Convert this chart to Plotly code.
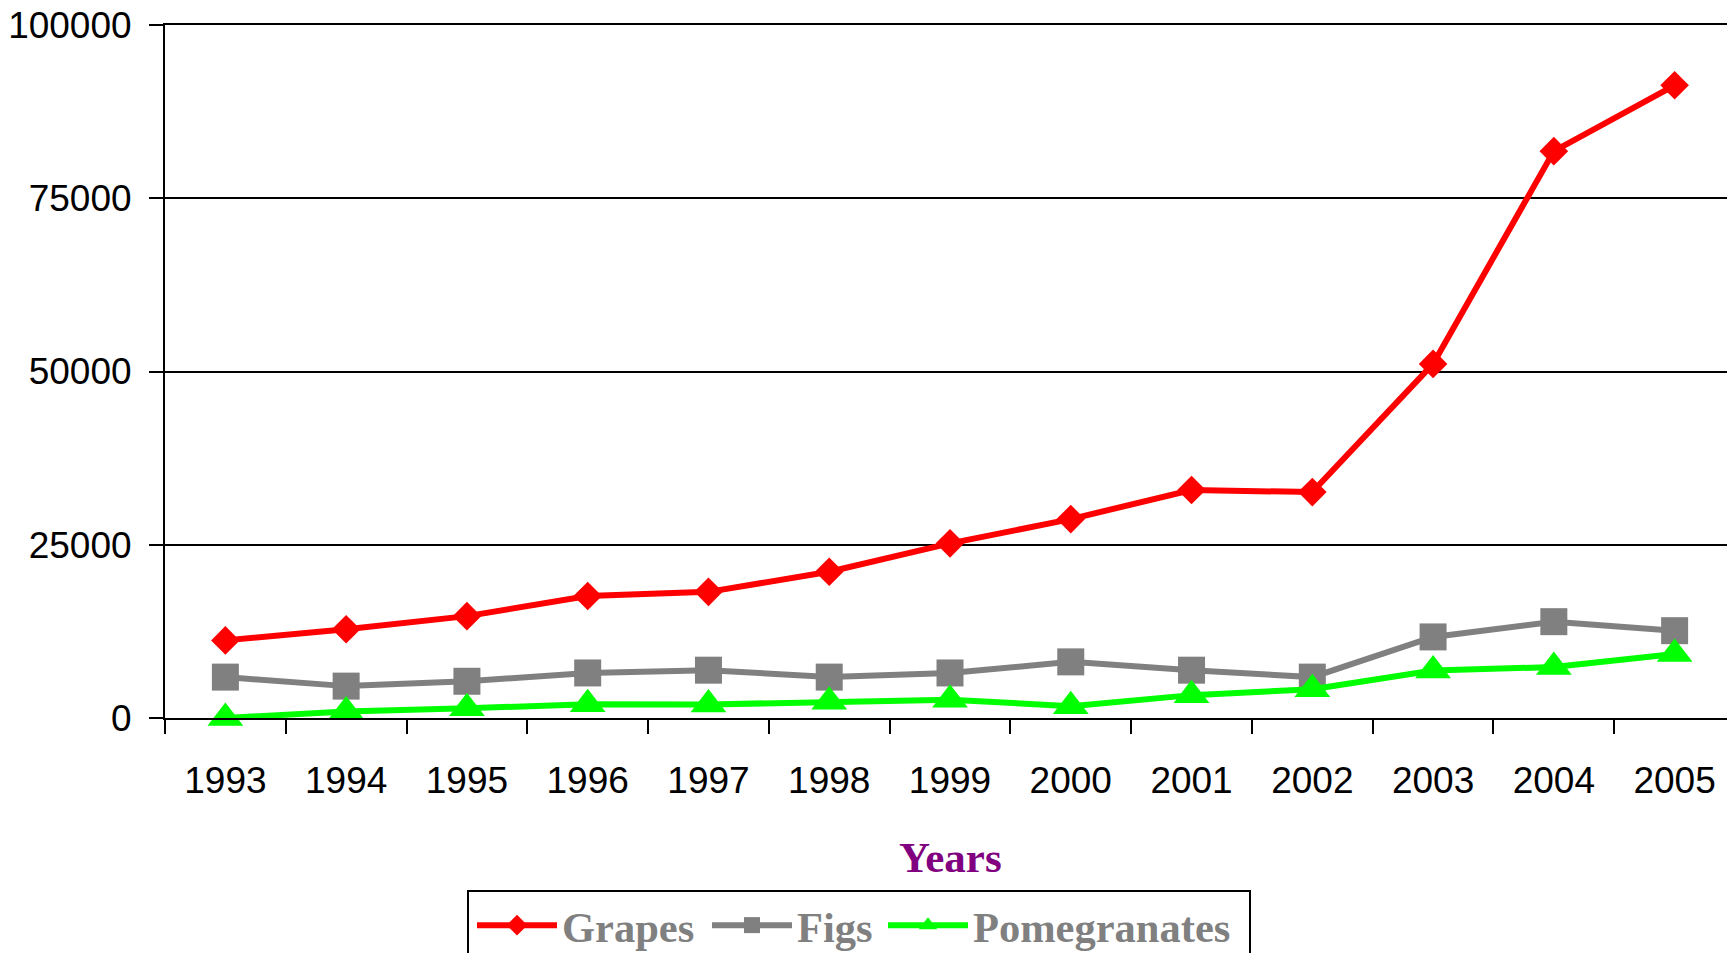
import plotly.graph_objects as go

years = ["1993", "1994", "1995", "1996", "1997", "1998", "1999",
         "2000", "2001", "2002", "2003", "2004", "2005"]
grapes = [11200, 12800, 14700, 17600, 18200, 21100, 25200,
          28700, 32900, 32600, 51100, 81800, 91300]
figs = [5900, 4600, 5300, 6500, 6900, 5900, 6500,
        8100, 6900, 5900, 11700, 13900, 12600]
pomegranates = [0, 950, 1400, 2000, 1950, 2350, 2650,
                1700, 3300, 4150, 6850, 7350, 9250]
y_ticks = [0, 25000, 50000, 75000, 100000]

# The page body has an 8px margin, so the figure is drawn 8px in from the
# window's top-left corner; size and place everything in window pixels.
OFF = 8
WIN_W, WIN_H = 1735, 953
W, H = WIN_W - OFF, WIN_H - OFF
PL, PR, PT, PB = 165, 1735, 25, 718          # plot box in window pixels
L, R, T, B = PL - OFF, WIN_W - PR, PT - OFF, WIN_H - PB
PW, PH = W - L - R, H - T - B


def px_x(p):
    return (p - OFF - L) / PW


def px_y(p):
    return (H - B - (p - OFF)) / PH


series = [
    ("Grapes", grapes, "#FF0000", "diamond", 22, "legend", 477),
    ("Figs", figs, "#808080", "square", 27, "legend2", 712),
    ("Pomegranates", pomegranates, "#00FF00", "triangle-up", 31, "legend3", 888),
]

fig = go.Figure()
for name, vals, col, sym, sz, lg, _ in series:
    fig.add_trace(go.Scatter(
        x=years, y=vals, name=name, mode="lines+markers",
        line=dict(color=col, width=6),
        marker=dict(symbol=sym, size=sz, color=col),
        cliponaxis=False, legend=lg,
    ))

tick_font = dict(family="Liberation Sans Narrow, Arial Narrow, Liberation Sans, Arial",
                 size=37, color="black")
leg_font = dict(family="Liberation Serif, Times New Roman", size=42.5, color="#808080", weight="bold")

legends = {}
for name, vals, col, sym, sz, lg, line_start in series:
    legends[lg] = dict(
        orientation="h", x=px_x(line_start - 5), y=px_y(891), xanchor="left", yanchor="top",
        borderwidth=0, bgcolor="rgba(0,0,0,0)", font=leg_font, itemwidth=80,
    )

fig.update_layout(
    width=W, height=H,
    margin=dict(l=L, r=R, t=T, b=B, pad=0, autoexpand=False),
    paper_bgcolor="white", plot_bgcolor="white",
    showlegend=True,
    xaxis=dict(
        type="category", tickson="boundaries", ticks="outside", ticklen=14,
        tickwidth=2, tickcolor="black", showline=True, linecolor="black", linewidth=2,
        mirror=True,
        showgrid=False, tickfont=tick_font, ticklabelstandoff=29,
        range=[-0.5, 12.5], automargin=False, ticklabeloverflow="allow",
    ),
    yaxis=dict(
        range=[0, 100000], tickvals=y_ticks, ticktext=[str(v) for v in y_ticks],
        ticks="outside", ticklen=14, tickwidth=2, tickcolor="black",
        showline=True, linecolor="black", linewidth=2,
        showgrid=True, gridcolor="black", gridwidth=1.5, zeroline=False,
        tickfont=tick_font, ticklabelstandoff=10, automargin=False,
        ticklabeloverflow="allow",
    ),
    annotations=[dict(
        text="Years", x=0.5, y=px_y(857), xref="paper", yref="paper",
        xanchor="center", yanchor="middle", showarrow=False,
        font=dict(family="Liberation Serif, Times New Roman", size=43, color="#800080", weight="bold"),
    )],
    shapes=[dict(
        type="rect", xref="paper", yref="paper",
        x0=px_x(468), x1=px_x(1250), y0=px_y(891), y1=px_y(1010),
        line=dict(color="black", width=2), fillcolor="rgba(0,0,0,0)",
    )],
    **legends,
)

fig.write_html("out.html")
